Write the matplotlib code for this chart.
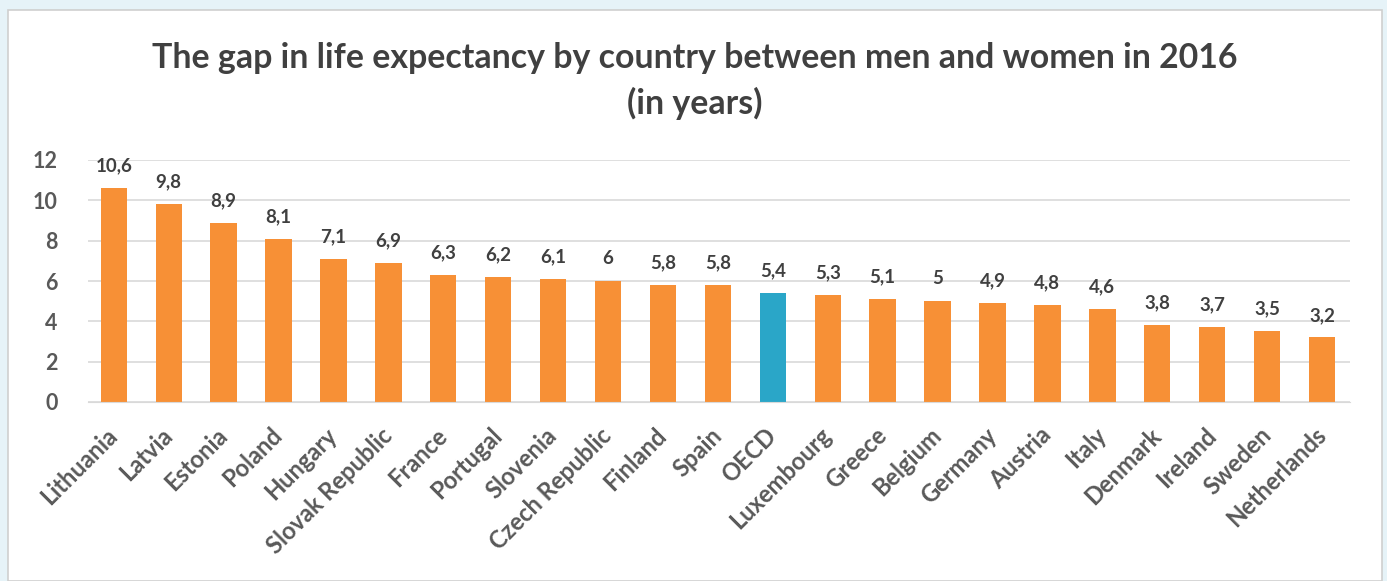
import matplotlib
matplotlib.use("Agg")
import matplotlib.pyplot as plt
import matplotlib.transforms as mtransforms
from matplotlib.patches import Rectangle

plt.rcParams['font.family'] = ['Lato', 'DejaVu Sans']

countries = ["Lithuania", "Latvia", "Estonia", "Poland", "Hungary", "Slovak Republic",
             "France", "Portugal", "Slovenia", "Czech Republic", "Finland", "Spain",
             "OECD", "Luxembourg", "Greece", "Belgium", "Germany", "Austria", "Italy",
             "Denmark", "Ireland", "Sweden", "Netherlands"]
gap_years = [10.6, 9.8, 8.9, 8.1, 7.1, 6.9, 6.3, 6.2, 6.1, 6.0, 5.8, 5.8,
             5.4, 5.3, 5.1, 5.0, 4.9, 4.8, 4.6, 3.8, 3.7, 3.5, 3.2]
highlight = "OECD"
y_ticks = [0, 2, 4, 6, 8, 10, 12]

W, H = 1387, 581
fig = plt.figure(figsize=(W / 100, H / 100), dpi=100, facecolor="#E6F3F8")

# white chart panel
fig.patches.append(Rectangle((8 / W, 0), (1382 - 8) / W, (H - 10) / H,
                             transform=fig.transFigure, facecolor="white",
                             edgecolor="#CFCFCF", linewidth=1.2, zorder=-5))

ax = fig.add_axes([88 / W, (H - 402) / H, (1350 - 88) / W, (402 - 160) / H], zorder=2)
ax.set_facecolor("none")

orange = "#F79036"
blue = "#2AA6C8"
colors = [blue if c == highlight else orange for c in countries]
x = range(len(countries))
ax.bar(x, gap_years, width=0.48, color=colors, zorder=2)

def fmt(v):
    s = f"{v:.1f}".replace(".", ",")
    return s[:-2] if s.endswith(",0") else s

for xi, v in zip(x, gap_years):
    ax.text(xi, v + 1.1, fmt(v), ha="center", va="center", fontsize=13.5,
            fontweight="bold", color="#404040", clip_on=False)

ax.set_xlim(-0.47, 22.51)
ax.set_ylim(0, 12)
ax.set_yticks(y_ticks)
ax.set_yticklabels([str(t) for t in y_ticks], fontsize=15.5, fontweight="bold", color="#595959")
ax.tick_params(axis="y", length=0, pad=22)
ax.grid(axis="y", color="#D9D9D9", linewidth=1.2, zorder=0)
ax.set_axisbelow(True)
for s in ["top", "right", "left"]:
    ax.spines[s].set_visible(False)
ax.spines["bottom"].set_color("#D9D9D9")

ax.set_xticks(list(x))
ax.set_xticklabels(countries, rotation=45, ha="right", rotation_mode="anchor",
                   fontsize=17, fontweight="bold", color="#595959")
ax.tick_params(axis="x", length=0, pad=14)
shift = mtransforms.ScaledTranslation(-8 / 100, -2 / 100, fig.dpi_scale_trans)
for lbl in ax.get_xticklabels():
    lbl.set_transform(lbl.get_transform() + shift)

fig.text(695 / W, 1 - 58 / H, "The gap in life expectancy by country between men and women in 2016",
         ha="center", va="center", fontsize=24.4, fontweight="bold", color="#404040")
fig.text(695 / W, 1 - 103 / H, "(in years)", ha="center", va="center",
         fontsize=24.4, fontweight="bold", color="#404040")

fig.savefig("out.png", dpi=100, facecolor=fig.get_facecolor())
